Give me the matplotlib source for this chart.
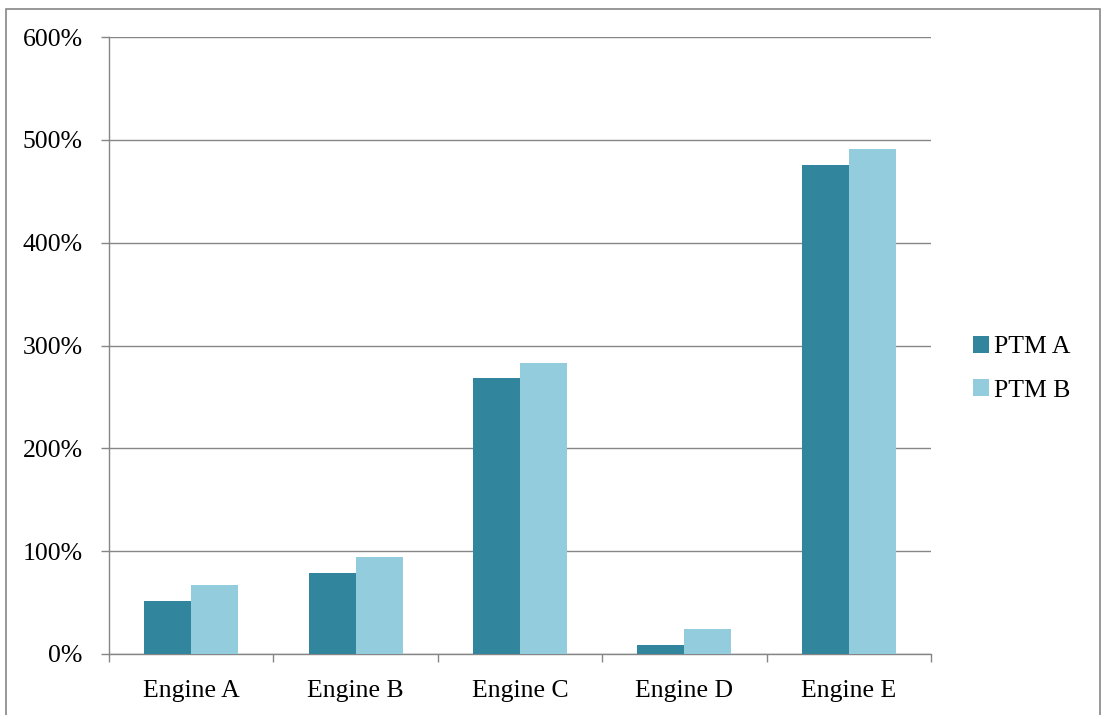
import matplotlib
matplotlib.use("Agg")
import matplotlib.pyplot as plt
import matplotlib.patches as mpatches
import numpy as np
from matplotlib.ticker import FixedLocator, FuncFormatter

plt.rcParams["font.family"] = ["Liberation Serif", "DejaVu Serif"]

# ── Data ──────────────────────────────────────────────────────────────────────
engines = ["Engine A", "Engine B", "Engine C", "Engine D", "Engine E"]
ptm_a = [52, 79, 268, 9, 476]     # percent
ptm_b = [67, 94, 283, 24, 491]    # percent
series_names = ["PTM A", "PTM B"]
y_ticks = [0, 100, 200, 300, 400, 500, 600]

# ── Style ─────────────────────────────────────────────────────────────────────
_DARK = "#31859C"
_LIGHT = "#93CDDD"
_GRID = "#868686"
_FS = 18.5

W, H, DPI = 1103, 715, 100
fig = plt.figure(figsize=(W / DPI, H / DPI), dpi=DPI, facecolor="white")
ax = fig.add_axes([109 / W, 1 - 654 / H, (931 - 109) / W, (654 - 37) / H])

x = np.arange(len(engines))
bw = 1 / 3.5   # Excel default gap width 150%
ax.bar(x - bw / 2, ptm_a, width=bw, color=_DARK, label=series_names[0], zorder=3)
ax.bar(x + bw / 2, ptm_b, width=bw, color=_LIGHT, label=series_names[1], zorder=3)

ax.set_xlim(-0.5, len(engines) - 0.5)
ax.set_ylim(0, 600)

# y axis: gridlines + percent labels
ax.yaxis.set_major_locator(FixedLocator(y_ticks))
ax.yaxis.set_major_formatter(FuncFormatter(lambda v, _: f"{v:.0f}%"))
ax.grid(axis="y", color=_GRID, linewidth=1.0, zorder=0)
ax.tick_params(axis="y", length=6, width=1, color=_GRID, pad=13, labelsize=_FS)

# x axis: ticks at category boundaries, labels at centres
ax.set_xticks(np.arange(len(engines) + 1) - 0.5)
ax.set_xticklabels([])
ax.set_xticks(x, minor=True)
ax.set_xticklabels(engines, minor=True, fontsize=_FS)
ax.tick_params(axis="x", which="major", length=6, width=1, color=_GRID)
ax.tick_params(axis="x", which="minor", length=0, pad=18.5)

for side in ("top", "right"):
    ax.spines[side].set_visible(False)
for side in ("left", "bottom"):
    ax.spines[side].set_color(_GRID)
    ax.spines[side].set_linewidth(1.0)

leg = ax.legend(loc="center left", bbox_to_anchor=(1.039, 0.462), frameon=False,
                fontsize=_FS, handlelength=0.6, handleheight=0.6,
                handletextpad=0.2, labelspacing=0.82, borderaxespad=0)

# Chart-area border
fig.add_artist(mpatches.Rectangle((6 / W, -0.05), (1100 - 6) / W, 1.05 - 9 / H,
                                  transform=fig.transFigure, fill=False,
                                  edgecolor=_GRID, linewidth=1.2, clip_on=False))

fig.savefig("out.png", dpi=DPI, facecolor="white")
